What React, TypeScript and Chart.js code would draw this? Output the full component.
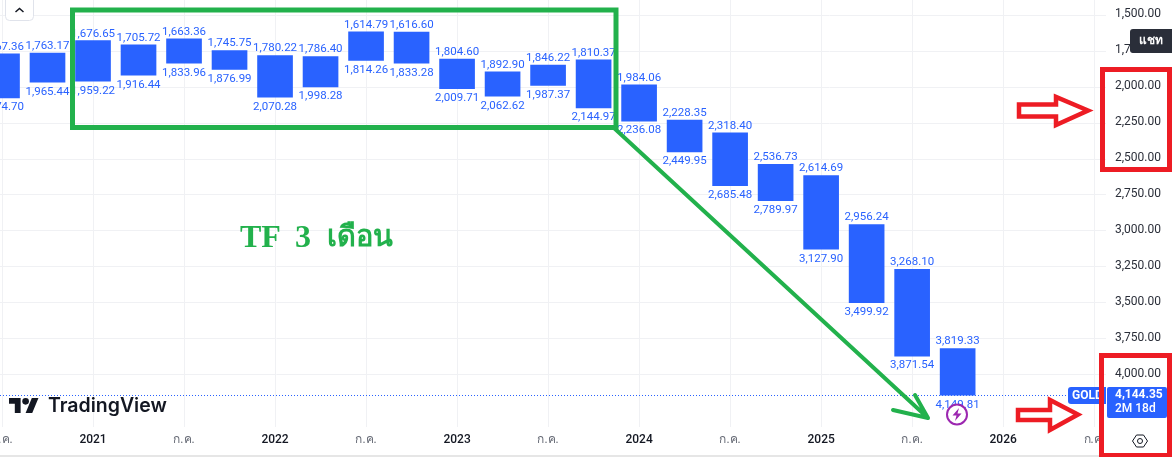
import React, { useEffect, useRef } from "react";
import { Chart, registerables } from "chart.js";

Chart.register(...registerables);

const periods = [
  "Q3 2020", "Q4 2020", "Q1 2021", "Q2 2021", "Q3 2021", "Q4 2021", "Q1 2022", "Q2 2022",
  "Q3 2022", "Q4 2022", "Q1 2023", "Q2 2023", "Q3 2023", "Q4 2023", "Q1 2024", "Q2 2024",
  "Q3 2024", "Q4 2024", "Q1 2025", "Q2 2025", "Q3 2025", "Q4 2025",
];
const barTops = [
  1767.36, 1763.17, 1676.65, 1705.72, 1663.36, 1745.75, 1780.22, 1786.4, 1614.79, 1616.6, 1804.6,
  1892.9, 1846.22, 1810.37, 1984.06, 2228.35, 2318.4, 2536.73, 2614.69, 2956.24, 3268.1, 3819.33,
];
const barBottoms = [
  2074.7, 1965.44, 1959.22, 1916.44, 1833.96, 1876.99, 2070.28, 1998.28, 1814.26, 1833.28, 2009.71,
  2062.62, 1987.37, 2144.97, 2236.08, 2449.95, 2685.48, 2789.97, 3127.9, 3499.92, 3871.54, 4144.35,
];
const lowLabels = [
  2074.7, 1965.44, 1959.22, 1916.44, 1833.96, 1876.99, 2070.28, 1998.28, 1814.26, 1833.28, 2009.71,
  2062.62, 1987.37, 2144.97, 2236.08, 2449.95, 2685.48, 2789.97, 3127.9, 3499.92, 3871.54, 4149.81,
];
const priceTicks = [1500, 1750, 2000, 2250, 2500, 2750, 3000, 3250, 3500, 3750, 4000];
const timeTickIndexes = [0, 2, 4, 6, 8, 10, 12, 14, 16, 18, 20, 22, 24];
const timeTickLabels = ["ก.ค.", "2021", "ก.ค.", "2022", "ก.ค.", "2023", "ก.ค.", "2024", "ก.ค.", "2025", "ก.ค.", "2026", "ก.ค."];
const lastPrice = 4144.35;

const BLUE = "#2962ff";
const GREEN = "#22b14c";
const RED = "#ed1c24";
const GRID = "#f0f1f4";
const UI_FONT = "Roboto, 'Noto Sans', sans-serif";
const fmt = (v: number) =>
  v.toLocaleString("en-US", { minimumFractionDigits: 2, maximumFractionDigits: 2 });

const polygon = (ctx: CanvasRenderingContext2D, pts: number[][]) => {
  ctx.beginPath();
  pts.forEach(([x, y], i) => (i ? ctx.lineTo(x, y) : ctx.moveTo(x, y)));
  ctx.closePath();
};

const overlay = {
  id: "overlay",
  afterDatasetsDraw(chart: any) {
    const { ctx, scales } = chart;
    const { x, y } = scales;
    ctx.save();

    // bottom edge of the time axis
    ctx.fillStyle = "#e6e6e6";
    ctx.fillRect(0, 455, 1172, 2);

    // last-price dotted line
    const py = Math.round(y.getPixelForValue(lastPrice)) + 0.5;
    ctx.strokeStyle = BLUE;
    ctx.lineWidth = 1;
    ctx.setLineDash([1, 2]);
    ctx.beginPath();
    ctx.moveTo(0, py);
    ctx.lineTo(1068, py);
    ctx.stroke();
    ctx.setLineDash([]);

    // high / low labels
    ctx.font = `11.5px ${UI_FONT}`;
    ctx.fillStyle = BLUE;
    ctx.textAlign = "center";
    ctx.textBaseline = "middle";
    barTops.forEach((v, i) => {
      const cx = x.getPixelForValue(i);
      ctx.fillText(fmt(v), cx, y.getPixelForValue(v) - 7);
      ctx.fillText(fmt(lowLabels[i]), cx, y.getPixelForValue(barBottoms[i]) + 9.5);
    });

    // collapse button
    ctx.fillStyle = "#fff";
    ctx.strokeStyle = "#e0e3eb";
    ctx.beginPath();
    ctx.roundRect(5.5, -4, 28, 24.5, 4);
    ctx.fill();
    ctx.stroke();
    ctx.strokeStyle = "#131722";
    ctx.lineWidth = 1.5;
    ctx.beginPath();
    ctx.moveTo(15.5, 12);
    ctx.lineTo(19.5, 8.5);
    ctx.lineTo(23.5, 12);
    ctx.stroke();

    // watermark
    ctx.fillStyle = "#131722";
    ctx.save();
    ctx.translate(9, 394.7);
    ctx.scale(0.83, 0.83);
    ctx.fill(new Path2D("M14 22H7V11H0V4h14v18zM28 22h-8l7.5-18h8L28 22z"));
    ctx.beginPath();
    ctx.arc(20, 8, 4, 0, Math.PI * 2);
    ctx.fill();
    ctx.restore();
    ctx.font = `600 19.5px Inter, ${UI_FONT}`;
    ctx.textAlign = "left";
    ctx.fillText("TradingView", 48, 406);

    // timeframe note
    ctx.fillStyle = GREEN;
    ctx.textAlign = "left";
    ctx.font = "bold 32px 'Liberation Serif', serif";
    ctx.fillText("TF", 240, 239);
    ctx.fillText("3", 295, 239);
    ctx.font = "bold 29px 'Liberation Serif', serif";
    ctx.fillText("เดือน", 327, 239);

    // green frame and arrow
    ctx.strokeStyle = GREEN;
    ctx.lineWidth = 5;
    ctx.strokeRect(72.5, 10, 543.5, 117.5);
    ctx.lineWidth = 4;
    ctx.lineCap = "round";
    ctx.lineJoin = "round";
    ctx.beginPath();
    ctx.moveTo(614, 128);
    ctx.lineTo(928, 418);
    ctx.moveTo(893, 410);
    ctx.lineTo(928, 418);
    ctx.lineTo(915, 395);
    ctx.stroke();
    ctx.lineCap = "butt";
    ctx.lineJoin = "miter";

    // lightning badge
    ctx.fillStyle = "#fff";
    ctx.strokeStyle = "#9c27b0";
    ctx.lineWidth = 2;
    ctx.beginPath();
    ctx.arc(957, 414.5, 10, 0, Math.PI * 2);
    ctx.fill();
    ctx.stroke();
    ctx.fillStyle = "#9c27b0";
    polygon(ctx, [[959, 408], [952.5, 415.5], [956.5, 415.5], [955, 421], [961.5, 413.5], [957.5, 413.5]]);
    ctx.fill();

    // price tags
    ctx.fillStyle = BLUE;
    ctx.beginPath();
    ctx.roundRect(1068, 387, 38, 17, [3, 0, 0, 3]);
    ctx.fill();
    ctx.beginPath();
    ctx.roundRect(1107, 387, 60, 31, 2);
    ctx.fill();
    ctx.fillStyle = "#fff";
    ctx.font = `bold 12px ${UI_FONT}`;
    ctx.textAlign = "left";
    ctx.save();
    ctx.beginPath();
    ctx.rect(1068, 387, 38, 17);
    ctx.clip();
    ctx.fillText("GOLD", 1072, 396);
    ctx.restore();
    ctx.fillText(fmt(lastPrice), 1115, 395);
    ctx.font = `500 12px ${UI_FONT}`;
    ctx.fillText("2M 18d", 1115, 409);

    // settings icon
    const hx = 1140;
    const hy = 441;
    ctx.strokeStyle = "#131722";
    ctx.lineWidth = 1;
    polygon(ctx, [[hx - 7.5, hy], [hx - 3.5, hy - 6], [hx + 3.5, hy - 6], [hx + 7.5, hy], [hx + 3.5, hy + 6], [hx - 3.5, hy + 6]]);
    ctx.stroke();
    ctx.beginPath();
    ctx.arc(hx, hy, 2.5, 0, Math.PI * 2);
    ctx.stroke();

    // chat tooltip
    ctx.fillStyle = "#2a2e39";
    ctx.beginPath();
    ctx.roundRect(1130, 29, 46, 24, 3);
    ctx.fill();
    ctx.fillStyle = "#fff";
    ctx.font = `bold 12px ${UI_FONT}`;
    ctx.textAlign = "center";
    ctx.fillText("แชท", 1151, 41);

    // red frames and arrows
    ctx.strokeStyle = RED;
    ctx.lineWidth = 5;
    ctx.strokeRect(1102.5, 69.5, 67, 100);
    ctx.strokeRect(1101.5, 355.5, 68, 100);
    ctx.lineWidth = 4.5;
    polygon(ctx, [[1019, 104.5], [1056, 104.5], [1056, 97], [1088, 110.5], [1056, 125], [1056, 116.5], [1019, 116.5]]);
    ctx.stroke();
    polygon(ctx, [[1018, 410], [1050, 410], [1050, 400], [1078, 414.5], [1050, 430], [1050, 420], [1018, 420]]);
    ctx.stroke();

    ctx.restore();
  },
};

export default function App() {
  const ref = useRef<HTMLCanvasElement>(null);

  useEffect(() => {
    if (!ref.current) return;
    const chart = new Chart(ref.current, {
      type: "bar",
      data: {
        datasets: [
          {
            label: "GOLD",
            data: periods.map((_, i) => ({ x: i, y: [barTops[i], barBottoms[i]] })),
            backgroundColor: BLUE,
            borderWidth: 0,
            barThickness: 35,
          },
        ],
      },
      plugins: [overlay],
      options: {
        animation: false,
        responsive: false,
        layout: { padding: { right: 11, left: 0, top: 0, bottom: 0 } },
        plugins: { legend: { display: false }, tooltip: { enabled: false } },
        scales: {
          x: {
            type: "linear",
            offset: false,
            min: -0.044,
            max: 24.26,
            border: { display: false },
            grid: { color: GRID, drawTicks: false, offset: false },
            afterBuildTicks: (s: any) => {
              s.ticks = timeTickIndexes.map((value) => ({ value }));
            },
            afterFit: (s: any) => {
              s.height = 30;
              s.paddingLeft = 0;
              s.paddingRight = 0;
            },
            ticks: {
              autoSkip: false,
              maxRotation: 0,
              padding: 6,
              font: (c: any) => ({
                family: UI_FONT,
                size: 12,
                weight: timeTickLabels[timeTickIndexes.indexOf(c.tick?.value)] === "ก.ค." ? "normal" : "500",
              }),
              color: (c: any) =>
                timeTickLabels[timeTickIndexes.indexOf(c.tick?.value)] === "ก.ค." ? "#666a75" : "#131722",
              callback: (v: any) => timeTickLabels[timeTickIndexes.indexOf(v)] ?? "",
            },
          },
          y: {
            type: "linear",
            position: "right",
            reverse: true,
            min: 1393.5,
            max: 4365,
            border: { display: false },
            grid: { color: GRID, drawTicks: false },
            afterBuildTicks: (s: any) => {
              s.ticks = priceTicks.map((value) => ({ value }));
            },
            afterFit: (s: any) => {
              s.width = 55;
              s.paddingTop = 0;
              s.paddingBottom = 0;
            },
            ticks: {
              padding: 9,
              crossAlign: "far",
              labelOffset: -1,
              color: "#2a2e39",
              font: { family: UI_FONT, size: 12 },
              callback: (v: any) => fmt(Number(v)),
            },
          },
        },
      },
    } as any);
    return () => chart.destroy();
  }, []);

  return (
    <div style={{ position: "absolute", left: 0, top: 0, width: 1172, height: 457, background: "#fff", overflow: "hidden" }}>
      <canvas ref={ref} width={1172} height={457} style={{ display: "block" }} />
    </div>
  );
}
